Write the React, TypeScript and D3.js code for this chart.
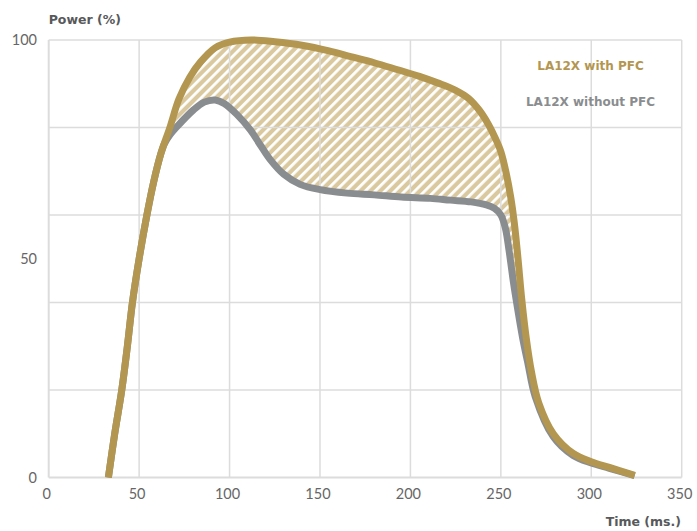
import React from "react";
import * as d3 from "d3";

// ---- data ----
const goldTime = [33, 36.5, 40.4, 43.5, 46.3, 50, 54.3, 58, 62, 67, 72, 78, 84, 92, 100, 112, 125, 140, 155, 167, 180, 193, 205, 215, 225, 232, 238, 243, 247, 250, 253, 255.5, 257.5, 259.5, 261.5, 264, 267, 271, 279, 290, 300, 310, 324];
const goldPower = [0, 10, 20, 30, 40, 50, 60, 67.5, 74, 80, 86.5, 91.5, 95, 98.2, 99.5, 100, 99.6, 98.8, 97.5, 96.2, 94.8, 93.2, 91.7, 90.2, 88.5, 86.7, 84, 80.8, 77.5, 74.5, 69.5, 64, 58, 50, 41, 32, 24, 17, 10, 5.5, 3.6, 2.3, 0.5];

const grayTime = [33, 36.5, 40.4, 43.5, 46.3, 50, 54.3, 58, 62, 64, 67, 71.6, 80, 86, 92, 97, 104, 111.6, 117, 122.6, 130, 139, 150, 165, 180, 195, 211, 222, 233.6, 242, 246.5, 250, 252.5, 254.5, 257, 259.5, 262, 265, 269, 279, 290, 300, 310, 324];
const grayPower = [0, 10, 20, 30, 40, 50, 60, 67.5, 74, 76.3, 78.3, 80.5, 84, 85.8, 86.3, 85.5, 83, 79.4, 76, 72.6, 69.3, 67, 65.8, 65, 64.6, 64.1, 63.8, 63.4, 63, 62.3, 61.5, 60, 57, 52, 44.5, 38, 32, 26, 18.5, 9.3, 5, 3.3, 2.1, 0.4];

const xTicks = [0, 50, 100, 150, 200, 250, 300, 350];
const yGrid = [0, 20, 40, 60, 80, 100];
const yTickLabels = [0, 50, 100];

const seriesNames = ["LA12X with PFC", "LA12X without PFC"];

// ---- styles ----
const GOLD = "#b3964f";
const GRAY = "#8a8d8f";
const TAN = "#dac89f";
const GRID = "#dcdcdc";

export default function App() {
  const W = 697, H = 531;
  const x = d3.scaleLinear().domain([0, 350]).range([48.7, 681.7]);
  const y = d3.scaleLinear().domain([0, 100]).range([477.5, 40]);

  const gold = goldTime.map((t, i) => [t, goldPower[i]] as [number, number]);
  const gray = grayTime.map((t, i) => [t, grayPower[i]] as [number, number]);

  const curve = d3.curveCatmullRom.alpha(0.5);
  const line = d3.line<[number, number]>().x(d => x(d[0])).y(d => y(d[1])).curve(curve);
  const goldArea = d3.area<[number, number]>().x(d => x(d[0])).y0(y(0)).y1(d => y(d[1])).curve(curve);
  const aboveGray = d3.area<[number, number]>().x(d => x(d[0])).y0(0).y1(d => y(d[1])).curve(curve);

  const tickFont = "Lato, 'Open Sans', sans-serif";
  const boldFont = "'DejaVu Sans', sans-serif";

  return (
    <svg width={W} height={H} style={{ position: "absolute", left: 0, top: 0 }} xmlns="http://www.w3.org/2000/svg">
      <defs>
        <pattern id="hatch" width="7" height="7" patternUnits="userSpaceOnUse" patternTransform="rotate(45)">
          <rect width="7" height="7" fill={TAN} />
          <rect width="2.8" height="7" fill="#ffffff" />
        </pattern>
        <clipPath id="aboveGray">
          <path d={aboveGray(gray) || ""} />
        </clipPath>
      </defs>
      <rect width={W} height={H} fill="#fff" />

      {/* hatched difference */}
      <path d={goldArea(gold) || ""} fill="url(#hatch)" clipPath="url(#aboveGray)" />

      {/* grid */}
      {yGrid.map(v => (
        <line key={"h" + v} x1={x(0)} x2={x(350)} y1={y(v)} y2={y(v)} stroke={GRID} strokeWidth={v === 0 ? 2 : 1.5} />
      ))}
      {xTicks.map(v => (
        <line key={"v" + v} x1={x(v)} x2={x(v)} y1={y(0)} y2={y(100)} stroke={GRID} strokeWidth={v === 0 ? 2 : 1.5} />
      ))}

      {/* lines */}
      <path d={line(gray) || ""} fill="none" stroke={GRAY} strokeWidth={7} strokeLinejoin="round" />
      <path d={line(gold) || ""} fill="none" stroke={GOLD} strokeWidth={7} strokeLinejoin="round" />

      {/* axis labels */}
      {xTicks.map(v => (
        <text key={"xt" + v} x={x(v) - 2} y={499} textAnchor="middle" fontFamily={tickFont} fontSize={14.5} fill="#666">{v}</text>
      ))}
      {yTickLabels.map(v => (
        <text key={"yt" + v} x={37} y={y(v)} dy="0.36em" textAnchor="end" fontFamily={tickFont} fontSize={14.5} fill="#666">{v}</text>
      ))}

      <text x={48.7} y={23.5} fontFamily={boldFont} fontWeight="bold" fontSize={12.5} fill="#58595b">Power (%)</text>
      <text x={681} y={526} textAnchor="end" fontFamily={boldFont} fontWeight="bold" fontSize={12.5} fill="#58595b">Time (ms.)</text>

      {/* legend */}
      <text x={590.5} y={69.5} textAnchor="middle" fontFamily={boldFont} fontWeight="bold" fontSize={12} fill={GOLD}>{seriesNames[0]}</text>
      <text x={590.5} y={105.5} textAnchor="middle" fontFamily={boldFont} fontWeight="bold" fontSize={12} fill={GRAY}>{seriesNames[1]}</text>
    </svg>
  );
}
